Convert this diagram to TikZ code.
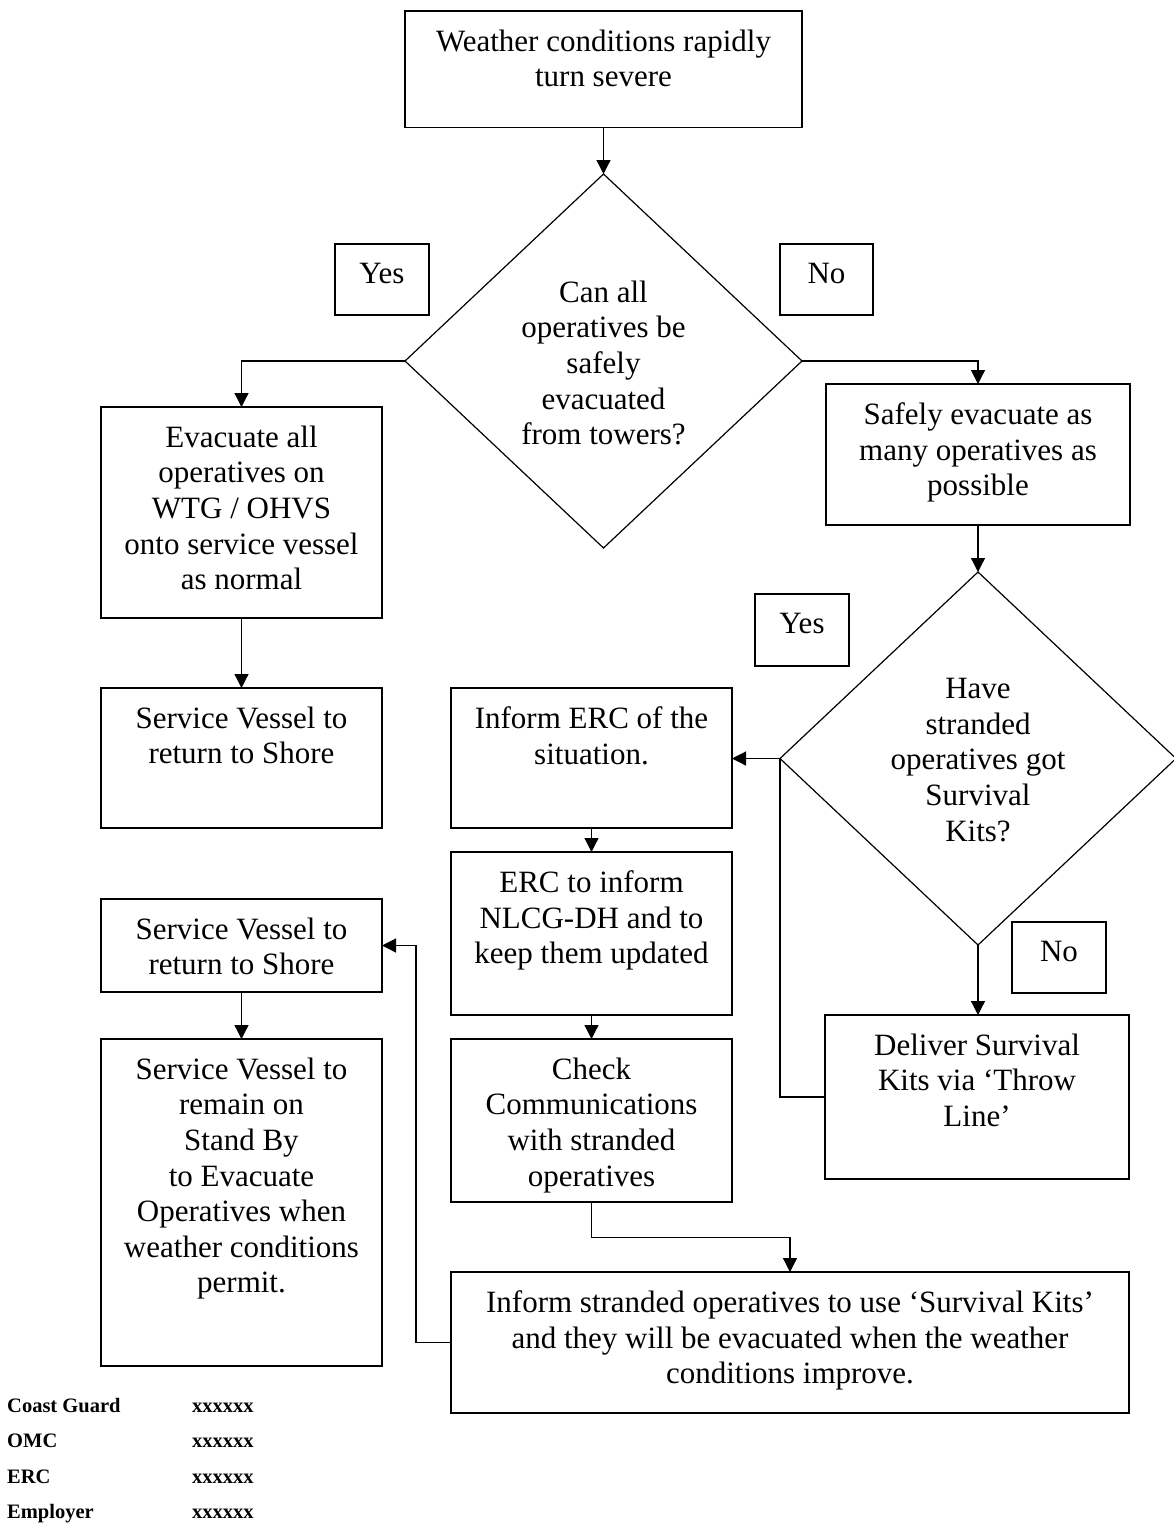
\documentclass[tikz,border=0pt]{standalone}
\usepackage{fontspec}
\setmainfont{Liberation Serif}
\usetikzlibrary{shapes.geometric,arrows.meta}

\tikzset{
  frame/.style={draw, line width=1.4pt, inner sep=0pt, outer sep=0pt},
  decision/.style={diamond, draw, line width=1.2pt, inner sep=0pt, outer sep=0pt},
  boxtext/.style={inner sep=0pt, align=center, font=\fontsize{31}{35.6}\selectfont},
  legendtext/.style={inner sep=0pt, anchor=base west, font=\fontsize{20.5}{24}\selectfont\bfseries},
  flow/.style={line width=1.2pt, -{Triangle[length=14pt,width=14pt]}},
  link/.style={line width=1.2pt},
}

% \flowbox{name}{x1}{y1}{x2}{y2}{text}: framed box with its text set near the top
\newcommand\flowbox[6]{%
  \node[frame, minimum width={#4pt-#2pt}, minimum height={#5pt-#3pt}, anchor=north west] (#1) at (#2,#3) {};
  \node[boxtext, anchor=north] (#1-text) at ([yshift=-18.5pt]#1.north) {#6};
}

\begin{document}
\begin{tikzpicture}[x=1pt,y=-1pt]
\useasboundingbox (0,0) rectangle (1174,1523);

% process boxes
\flowbox{start}{405}{11}{802}{127.5}{Weather conditions rapidly\\turn severe}
\flowbox{evac}{101}{407}{382}{618}{Evacuate all\\operatives on\\WTG / OHVS\\onto service vessel\\as normal}
\flowbox{safe}{826}{384}{1130}{525}{Safely evacuate as\\many operatives as\\possible}
\flowbox{shoreA}{101}{688}{382}{828}{Service Vessel to\\return to Shore}
\flowbox{inform}{451}{688}{732}{828}{Inform ERC of the\\situation.}
\flowbox{erc}{451}{852}{732}{1015}{ERC to inform\\NLCG-DH and to\\keep them updated}
\flowbox{check}{451}{1039}{732}{1202}{Check\\Communications\\with stranded\\operatives}
\flowbox{deliver}{825}{1015}{1129}{1179}{Deliver Survival\\Kits via ‘Throw\\Line’}
\flowbox{shoreB}{101}{899}{382}{992}{Service Vessel to\\return to Shore}
\flowbox{standby}{101}{1039}{382}{1366}{Service Vessel to\\remain on\\Stand By\\to Evacuate\\Operatives when\\weather conditions\\permit.}
\flowbox{survive}{451}{1272}{1129}{1413}{Inform stranded operatives to use ‘Survival Kits’\\and they will be evacuated when the weather\\conditions improve.}

% answer tags
\flowbox{yesA}{335}{244}{429}{315}{Yes}
\flowbox{noA}{780}{244}{873}{315}{No}
\flowbox{yesB}{755}{594}{849}{666}{Yes}
\flowbox{noB}{1012}{922}{1106}{993}{No}

% decisions
\node[decision, minimum width=397pt, minimum height=374pt] (canall) at (603.5,361) {};
\node[boxtext] (canall-text) at (603.5,363) {Can all\\operatives be\\safely\\evacuated\\from towers?};
\node[decision, minimum width=396pt, minimum height=373pt] (kits) at (978,758.5) {};
\node[boxtext] (kits-text) at (978,760) {Have\\stranded\\operatives got\\Survival\\Kits?};

% connectors
\draw[flow] (start.south) -- (canall.north);
\draw[flow] (canall.west) -| (evac.north);
\draw[flow] (canall.east) -| (safe.north);
\draw[flow] (evac.south) -- (shoreA.north);
\draw[flow] (safe.south) -- (kits.north);
\draw[flow] (kits.west) -- (kits.west -| inform.east);
\draw[link] (kits.west) |- (deliver.west);
\draw[flow] (kits.south) -- (kits.south |- deliver.north);
\draw[flow] (inform.south) -- (erc.north);
\draw[flow] (erc.south) -- (check.north);
\draw[flow] (check.south) -- ++(0,35.5) -| (survive.north);
\draw[flow] (survive.west) -- ++(-35,0) |- (shoreB.east);
\draw[flow] (shoreB.south) -- (standby.north);

% contact list
\node[legendtext] (lg1) at (7,1412) {Coast Guard};
\node[legendtext] (lg1v) at (192,1412) {xxxxxx};
\node[legendtext] (lg2) at (7,1447.5) {OMC};
\node[legendtext] (lg2v) at (192,1447.5) {xxxxxx};
\node[legendtext] (lg3) at (7,1483) {ERC};
\node[legendtext] (lg3v) at (192,1483) {xxxxxx};
\node[legendtext] (lg4) at (7,1518) {Employer};
\node[legendtext] (lg4v) at (192,1518) {xxxxxx};
\end{tikzpicture}
\end{document}
